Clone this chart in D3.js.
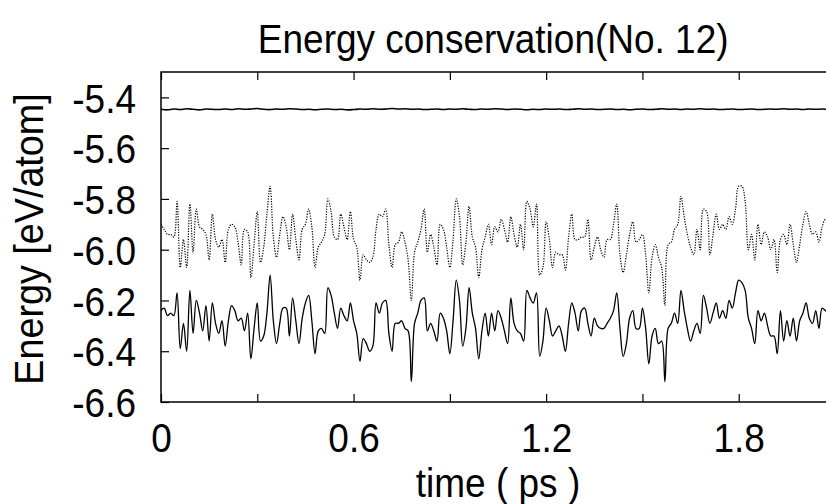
<!DOCTYPE html>
<html>
<head>
<meta charset="utf-8">
<script src="https://cdn.jsdelivr.net/npm/d3@7"></script>
<style>
    body { margin: 0; background: #fff; }
    #chart-area { width: 826px; height: 504px; }
    text { font-family: "Liberation Sans", Arial, Helvetica, sans-serif; fill: #000; }
</style>
</head>
<body>
<div id="chart-area"></div>
<script>

// sample step of the two lower curves (ps)
const timeStep = 0.01;
// sample step of the total energy curve (ps)
const totalStep = 0.02;

const xTicks = [0, 0.3, 0.6, 0.9, 1.2, 1.5, 1.8, 2.1];
const xLabels = [0, 0.6, 1.2, 1.8];
const yTicks = [-6.6, -6.4, -6.2, -6.0, -5.8, -5.6, -5.4];

// total energy (top, solid)
const totalEnergy = [
    -5.447, -5.449, -5.446, -5.448, -5.445, -5.447, -5.449, -5.446, -5.447, -5.448,
    -5.446, -5.448, -5.445, -5.447, -5.446, -5.444, -5.447, -5.448, -5.446, -5.447,
    -5.445, -5.446, -5.448, -5.447, -5.449, -5.447, -5.446, -5.448, -5.447, -5.449,
    -5.448, -5.446, -5.447, -5.445, -5.447, -5.446, -5.444, -5.446, -5.445, -5.447,
    -5.446, -5.448, -5.447, -5.446, -5.448, -5.446, -5.447, -5.445, -5.447, -5.448,
    -5.446, -5.447, -5.445, -5.446, -5.448, -5.446, -5.447, -5.449, -5.447, -5.448,
    -5.446, -5.447, -5.446, -5.448, -5.447, -5.445, -5.447, -5.446, -5.448, -5.447,
    -5.446, -5.448, -5.447, -5.449, -5.447, -5.446, -5.448, -5.447, -5.445, -5.447,
    -5.446, -5.448, -5.446, -5.447, -5.445, -5.447, -5.446, -5.448, -5.447, -5.446,
    -5.448, -5.447, -5.446, -5.448, -5.447, -5.446, -5.447, -5.445, -5.447, -5.446,
    -5.448, -5.446, -5.447, -5.446, -5.447
];

// middle curve (dotted)
const dottedEnergy = [
    -5.90, -5.92, -5.94, -5.94, -5.95, -5.81, -6.07, -5.96, -6.07, -5.82,
    -6.01, -5.84, -5.91, -5.92, -5.94, -6.04, -5.86, -5.96, -5.99, -5.96,
    -6.05, -5.92, -5.90, -5.91, -5.97, -6.06, -5.92, -5.93, -6.11, -5.98,
    -5.85, -6.05, -5.99, -5.86, -5.75, -5.95, -6.03, -5.94, -5.87, -5.91,
    -6.00, -5.86, -5.96, -6.04, -5.92, -5.90, -5.84, -5.91, -6.07, -5.99,
    -5.97, -5.94, -5.80, -5.85, -5.95, -5.96, -5.86, -5.91, -5.96, -5.85,
    -5.96, -5.99, -6.12, -6.02, -6.04, -6.05, -6.03, -5.92, -5.86, -5.87,
    -5.84, -5.98, -6.07, -5.98, -5.97, -5.93, -5.97, -6.04, -6.20, -6.01,
    -5.97, -5.92, -5.84, -6.01, -5.94, -5.99, -6.06, -5.90, -5.92, -5.99,
    -6.07, -5.96, -5.80, -5.87, -6.06, -5.97, -5.83, -5.95, -5.99, -6.11,
    -6.00, -5.95, -5.90, -5.98, -5.91, -5.93, -5.88, -5.92, -5.97, -5.87,
    -5.94, -5.99, -5.90, -6.00, -5.81, -5.84, -5.91, -5.82, -6.10, -6.07,
    -5.89, -5.96, -6.07, -6.01, -6.02, -6.02, -6.08, -5.95, -5.86, -5.96,
    -5.96, -5.95, -5.95, -5.88, -6.04, -5.99, -5.95, -6.00, -6.03, -5.96,
    -5.96, -5.90, -5.82, -6.02, -6.09, -6.02, -5.94, -5.89, -5.97, -5.96,
    -5.94, -6.02, -6.17, -6.03, -5.98, -6.03, -6.07, -6.22, -5.98, -5.97,
    -5.92, -5.90, -5.79, -5.87, -5.94, -5.99, -6.02, -5.92, -6.00, -5.84,
    -5.85, -6.02, -5.94, -5.86, -5.92, -5.90, -5.92, -5.87, -5.90, -5.84,
    -5.75, -5.75, -5.81, -6.00, -5.94, -6.04, -5.90, -5.98, -5.93, -5.95,
    -6.00, -5.96, -6.09, -5.96, -5.94, -5.98, -5.90, -5.98, -6.05, -5.98,
    -5.90, -5.85, -5.90, -5.94, -5.93, -5.97, -5.91, -5.88, -5.90
];

// bottom curve (solid)
const solidEnergy = [
    -6.24, -6.23, -6.26, -6.25, -6.26, -6.17, -6.39, -6.29, -6.40, -6.16,
    -6.33, -6.20, -6.25, -6.32, -6.22, -6.36, -6.21, -6.29, -6.33, -6.28,
    -6.38, -6.28, -6.22, -6.24, -6.28, -6.27, -6.32, -6.25, -6.43, -6.31,
    -6.21, -6.36, -6.34, -6.25, -6.10, -6.28, -6.37, -6.29, -6.23, -6.23,
    -6.34, -6.19, -6.28, -6.37, -6.27, -6.21, -6.18, -6.28, -6.41, -6.32,
    -6.31, -6.33, -6.15, -6.18, -6.25, -6.31, -6.23, -6.26, -6.28, -6.21,
    -6.28, -6.33, -6.44, -6.35, -6.37, -6.40, -6.38, -6.21, -6.25, -6.21,
    -6.20, -6.33, -6.40, -6.29, -6.29, -6.28, -6.31, -6.32, -6.52, -6.29,
    -6.25, -6.20, -6.19, -6.32, -6.29, -6.32, -6.36, -6.25, -6.27, -6.32,
    -6.41, -6.28, -6.12, -6.20, -6.38, -6.31, -6.15, -6.25, -6.31, -6.43,
    -6.32, -6.25, -6.34, -6.25, -6.32, -6.24, -6.27, -6.32, -6.37, -6.19,
    -6.29, -6.32, -6.33, -6.36, -6.16, -6.19, -6.21, -6.17, -6.42, -6.36,
    -6.23, -6.28, -6.34, -6.32, -6.30, -6.34, -6.40, -6.29, -6.21, -6.25,
    -6.32, -6.24, -6.23, -6.29, -6.34, -6.27, -6.30, -6.31, -6.31, -6.29,
    -6.27, -6.24, -6.17, -6.31, -6.42, -6.37, -6.27, -6.24, -6.31, -6.31,
    -6.23, -6.31, -6.45, -6.34, -6.31, -6.37, -6.36, -6.52, -6.31, -6.29,
    -6.25, -6.29, -6.16, -6.24, -6.31, -6.36, -6.32, -6.29, -6.33, -6.18,
    -6.23, -6.29, -6.25, -6.21, -6.27, -6.24, -6.27, -6.20, -6.23, -6.17,
    -6.12, -6.13, -6.16, -6.27, -6.31, -6.37, -6.24, -6.28, -6.25, -6.30,
    -6.34, -6.34, -6.41, -6.24, -6.36, -6.28, -6.34, -6.27, -6.36, -6.28,
    -6.25, -6.21, -6.27, -6.29, -6.24, -6.31, -6.23, -6.24, -6.25
];


class EnergyChart {

    constructor(parentElement) {
        this.parentElement = parentElement;
        this.initVis();
    }

    initVis() {
        let vis = this;

        vis.margin = {top: 72, left: 161, bottom: 102};
        vis.totalWidth = 826;
        vis.totalHeight = 504;
        // the frame runs a bit past the right edge of the picture
        vis.width = 674;
        vis.height = vis.totalHeight - vis.margin.top - vis.margin.bottom;
        // the original lettering is a little taller than it is wide
        vis.stretch = "scale(1, 1.1)";

        vis.svg = d3.select("#" + vis.parentElement).append("svg")
            .attr("width", vis.totalWidth)
            .attr("height", vis.totalHeight)
            .append("g")
            .attr("transform", `translate(${vis.margin.left}, ${vis.margin.top})`);

        vis.x = d3.scaleLinear().domain([0, 2.1]).range([0, vis.width]);
        vis.y = d3.scaleLinear().domain([-6.6, -5.3]).range([vis.height, 0]);

        vis.svg.append("clipPath").attr("id", "plot-clip")
            .append("rect")
            .attr("width", vis.width)
            .attr("height", vis.height);

        // title
        vis.svg.append("text")
            .attr("transform", `translate(${vis.x(1.035)}, -19) ${vis.stretch}`)
            .attr("text-anchor", "middle")
            .style("font-size", "37px")
            .text("Energy conservation(No. 12)");

        // axis titles
        vis.svg.append("text")
            .attr("transform", `translate(${vis.x(1.05)}, ${vis.height + 95}) ${vis.stretch}`)
            .attr("text-anchor", "middle")
            .style("font-size", "37px")
            .text("time ( ps )");

        vis.svg.append("text")
            .attr("transform", `translate(${-118}, ${vis.height / 2 + 2}) rotate(-90) scale(1.02, 1.1)`)
            .attr("text-anchor", "middle")
            .style("font-size", "37px")
            .text("Energy [eV/atom]");

        vis.updateVis();
    }

    updateVis() {
        let vis = this;

        let lower = dottedEnergy.map((d, i) => ({t: i * timeStep, e: d}));
        let bottom = solidEnergy.map((d, i) => ({t: i * timeStep, e: d}));
        let total = totalEnergy.map((d, i) => ({t: i * totalStep, e: d}));

        let line = d3.line()
            .curve(d3.curveCatmullRom.alpha(0.5))
            .x(d => vis.x(d.t))
            .y(d => vis.y(d.e));

        let plot = vis.svg.append("g").attr("clip-path", "url(#plot-clip)");

        plot.append("path").datum(total)
            .attr("fill", "none")
            .attr("stroke", "#000")
            .attr("stroke-width", 1.6)
            .attr("d", line);

        plot.append("path").datum(lower)
            .attr("fill", "none")
            .attr("stroke", "#000")
            .attr("stroke-width", 1.2)
            .attr("stroke-dasharray", "1.2,1.4")
            .attr("d", line);

        plot.append("path").datum(bottom)
            .attr("fill", "none")
            .attr("stroke", "#000")
            .attr("stroke-width", 1.3)
            .attr("d", line);

        // axes, ticks pointing inward
        vis.xAxis = d3.axisBottom(vis.x)
            .tickValues(xTicks)
            .tickSizeInner(-8).tickSizeOuter(0)
            .tickFormat(d => xLabels.includes(d) ? d3.format("")(d) : "");
        vis.xAxisTop = d3.axisTop(vis.x)
            .tickValues(xTicks)
            .tickSizeInner(-8).tickSizeOuter(0)
            .tickFormat("");
        vis.yAxis = d3.axisLeft(vis.y)
            .tickValues(yTicks)
            .tickSizeInner(-8).tickSizeOuter(0)
            .tickFormat(d3.format(".1f"));

        let gx = vis.svg.append("g")
            .attr("class", "x-axis axis")
            .attr("transform", `translate(0, ${vis.height})`)
            .call(vis.xAxis);
        vis.svg.append("g")
            .attr("class", "x-axis-top axis")
            .call(vis.xAxisTop);
        let gy = vis.svg.append("g")
            .attr("class", "y-axis axis")
            .call(vis.yAxis);

        vis.svg.selectAll(".axis .domain").remove();
        vis.svg.selectAll(".axis .tick line").attr("stroke", "#000").attr("stroke-width", 1.2);
        gx.selectAll("text").style("font-size", "37px")
            .attr("transform", vis.stretch)
            .attr("dy", "1.05em").attr("y", 7);
        gy.selectAll("text").style("font-size", "37px")
            .attr("transform", vis.stretch)
            .attr("x", -25).attr("dy", "0.36em")
            .text(d => d3.format(".1f")(d).replace("−", "-"));

        // frame
        vis.svg.append("rect")
            .attr("width", vis.width)
            .attr("height", vis.height)
            .attr("fill", "none")
            .attr("stroke", "#000")
            .attr("stroke-width", 1.5);
    }
}

new EnergyChart("chart-area");
</script>
</body>
</html>
